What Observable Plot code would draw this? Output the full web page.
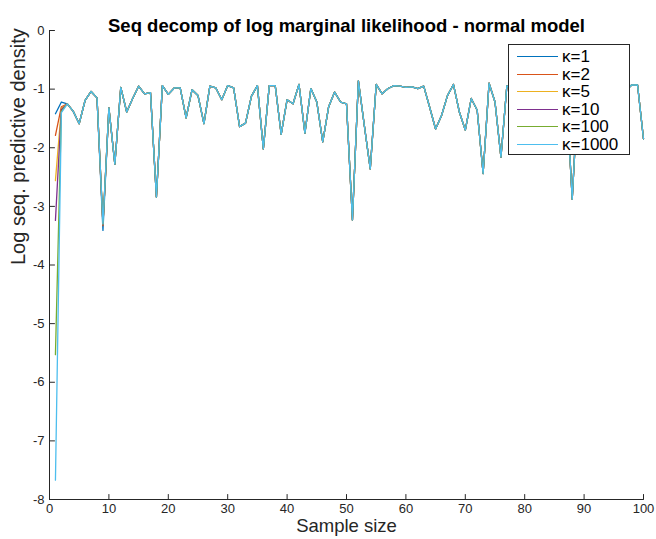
<!DOCTYPE html>
<html>
<head>
<meta charset="utf-8">
<script src="https://cdn.jsdelivr.net/npm/d3@7"></script>
<script src="https://cdn.jsdelivr.net/npm/@observablehq/plot@0.6"></script>
<style>
  body { margin: 0; background: #fff; font-family: "Liberation Sans", Arial, Helvetica, sans-serif; }
  #wrap { position: relative; width: 656px; height: 539px; }
  #legend {
    position: absolute; left: 508px; top: 44px; width: 120px; height: 109px;
    border: 1px solid #262626; background: #fff; box-sizing: content-box;
  }
  .row { position: absolute; left: 0; height: 18px; width: 120px; }
  .swatch { position: absolute; left: 8px; top: 8px; width: 41px; height: 1.4px; }
  .lab { position: absolute; left: 53px; top: 0; font-size: 17px; line-height: 18px; color: #000; white-space: nowrap; }
</style>
</head>
<body>
<div id="wrap"></div>
<script>
// Prior concentration values compared in the decomposition
const kappas = [1, 2, 5, 10, 100, 1000];
const kappaColors = ["#0072BD", "#D95319", "#EDB120", "#7E2F8E", "#77AC30", "#4DBEEE"];

// Log predictive density of the first, second and ninth observation for each kappa
const firstPoint  = [-1.42, -1.79, -2.56, -3.24, -5.53, -7.67];
const secondPoint = [-1.22, -1.30, -1.33, -1.35, -1.38, -1.40];
const ninthPoint  = [-3.41, -3.33, -3.30, -3.30, -3.30, -3.30];

// Log predictive density for observations 3..100 (identical across kappa)
const sharedFromThird = [
  -1.25, -1.38, -1.59, -1.19, -1.04, -1.15, -3.30, -1.32, -2.28, -0.97,
  -1.39, -1.16, -0.95, -1.08, -1.06, -2.84, -0.94, -1.09, -0.98, -0.98,
  -1.49, -1.01, -1.11, -1.59, -0.95, -0.98, -1.18, -0.94, -0.98, -1.64,
  -1.58, -1.12, -0.94, -2.02, -0.94, -0.94, -1.77, -1.18, -1.25, -0.92,
  -1.75, -0.99, -1.22, -1.90, -1.30, -1.05, -1.22, -1.25, -3.23, -0.86,
  -1.62, -2.36, -0.92, -1.08, -0.99, -0.94, -0.95, -0.97, -0.96, -0.99,
  -0.95, -1.31, -1.68, -1.45, -1.11, -0.92, -1.39, -1.70, -1.16, -1.36,
  -2.44, -0.90, -1.22, -2.16, -0.94, -1.05, -1.20, -0.98, -1.10, -1.02,
  -1.30, -0.97, -1.08, -1.15, -1.00, -2.88, -0.98, -1.12, -1.04, -1.25,
  -0.99, -1.06, -1.18, -1.00, -1.03, -0.93, -0.93, -1.85
];

const xTicks = [0, 10, 20, 30, 40, 50, 60, 70, 80, 90, 100];
const yTicks = [0, -1, -2, -3, -4, -5, -6, -7, -8];

const titleText = "Seq decomp of log marginal likelihood - normal model";
const xLabel = "Sample size";
const yLabel = "Log seq. predictive density";

// Long table: one row per (kappa, sample size)
const rows = [];
kappas.forEach((k, j) => {
  for (let n = 1; n <= 100; n++) {
    const v = n === 1 ? firstPoint[j] : n === 2 ? secondPoint[j] : n === 9 ? ninthPoint[j] : sharedFromThird[n - 3];
    rows.push({kappa: k, n, value: v});
  }
});

const axisColor = "#262626";
const font = '"Liberation Sans", Arial, Helvetica, sans-serif';

// Inward tick shape
const tickUp = {draw(ctx, l) { ctx.moveTo(0, 0); ctx.lineTo(0, -l); }};

const chart = Plot.plot({
  width: 656,
  height: 539,
  marginLeft: 49,
  marginRight: 13,
  marginTop: 30,
  marginBottom: 40,
  style: {fontFamily: font, fontSize: "13px", color: axisColor, background: "#fff"},
  x: {domain: [0, 100], label: null},
  y: {domain: [-8, 0], label: null},
  color: {type: "ordinal", domain: kappas, range: kappaColors},
  marks: [
    Plot.line(rows, {x: "n", y: "value", z: "kappa", stroke: "kappa", strokeWidth: 1.3}),
    // axis lines
    Plot.ruleX([0], {stroke: axisColor, strokeWidth: 1}),
    Plot.ruleY([-8], {stroke: axisColor, strokeWidth: 1}),
    // inward ticks
    Plot.vector(xTicks, {x: d => d, y: -8, length: 5, rotate: 0, anchor: "start", shape: tickUp, stroke: axisColor, strokeWidth: 1}),
    Plot.vector(yTicks, {x: 0, y: d => d, length: 5, rotate: 90, anchor: "start", shape: tickUp, stroke: axisColor, strokeWidth: 1}),
    // tick labels
    Plot.axisX(xTicks, {tickSize: 0, tickPadding: 4, tickFormat: d => String(d), fontSize: 13, label: null}),
    Plot.axisY(yTicks, {tickSize: 0, tickPadding: 5, tickFormat: d => String(d), fontSize: 13, label: null}),
    // title and axis labels
    Plot.text([titleText], {frameAnchor: "top", dy: -12, text: d => d, fontSize: 18.5, fontWeight: "bold", fill: "#000"}),
    Plot.text([xLabel], {frameAnchor: "bottom", dy: 32.5, text: d => d, fontSize: 18.5, fill: axisColor}),
    Plot.text([yLabel], {frameAnchor: "left", dx: -31, rotate: -90, text: d => d, fontSize: 20, fill: axisColor})
  ]
});

const wrap = document.getElementById("wrap");
wrap.appendChild(chart);

// Legend box in the upper right of the axes
const legend = document.createElement("div");
legend.id = "legend";
kappas.forEach((k, i) => {
  const row = document.createElement("div");
  row.className = "row";
  row.style.top = (3 + 17.5 * i) + "px";
  const sw = document.createElement("span");
  sw.className = "swatch";
  sw.style.background = kappaColors[i];
  const lab = document.createElement("span");
  lab.className = "lab";
  lab.textContent = "\u03BA=" + k;
  row.appendChild(sw);
  row.appendChild(lab);
  legend.appendChild(row);
});
wrap.appendChild(legend);
</script>
</body>
</html>
